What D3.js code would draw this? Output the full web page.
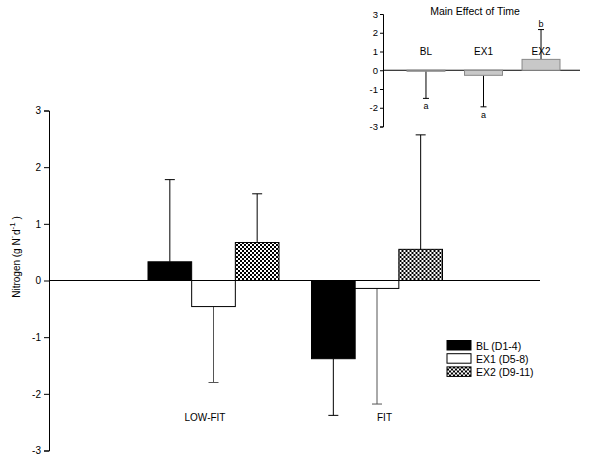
<!DOCTYPE html>
<html><head><meta charset="utf-8">
<script src="https://cdn.jsdelivr.net/npm/d3@7"></script>
<style>body{margin:0;background:#fff}svg{display:block;font-family:"Liberation Sans",Arial,sans-serif}</style>
</head><body><svg id="c" width="600" height="463"></svg>
<script>
const groups = ["LOW-FIT", "FIT"];
const periods = ["BL", "EX1", "EX2"];
const legendLabels = ["BL (D1-4)", "EX1 (D5-8)", "EX2 (D9-11)"];
const lowFitMeans = [0.33, -0.46, 0.67];
const lowFitErr = [1.45, 1.34, 0.86];
const fitMeans = [-1.38, -0.14, 0.55];
const fitErr = [1.0, 2.04, 2.02];
const yTicks = [-3, -2, -1, 0, 1, 2, 3];
const insetMeans = [-0.04, -0.27, 0.58];
const insetErr = [1.46, 1.68, 1.59];
const insetLetters = ["a", "a", "b"];

const svg = d3.select("#c");
const defs = svg.append("defs");
const pat = defs.append("pattern").attr("id","chk").attr("patternUnits","userSpaceOnUse")
  .attr("width",4).attr("height",4);
pat.append("rect").attr("width",4).attr("height",4).attr("fill","#fff");
pat.append("rect").attr("width",2).attr("height",2).attr("fill","#000");
pat.append("rect").attr("x",2).attr("y",2).attr("width",2).attr("height",2).attr("fill","#000");
const fills = ["#000", "#fff", "url(#chk)"];
const fmt = d => String(d);

// main chart
const y = d3.scaleLinear().domain([-3,3]).range([450.5,110.5]);
const x1 = d3.scaleBand().domain(periods).range([0,131]);
const data = [lowFitMeans, fitMeans];
const errs = [lowFitErr, fitErr];
const xg = d3.scaleOrdinal().domain(groups).range([148, 311.5]);

const ax = svg.append("g").attr("transform","translate(49,0)")
  .call(d3.axisLeft(y).tickValues(yTicks).tickSize(5).tickPadding(3).tickFormat(fmt));
ax.select(".domain").attr("stroke","#000");
ax.selectAll(".tick line").attr("stroke","#000");
ax.selectAll("text").attr("font-size",10).attr("fill","#000");

svg.append("line").attr("x1",49).attr("x2",540).attr("y1",y(0)).attr("y2",y(0)).attr("stroke","#000");

groups.forEach((g,gi)=>{
  const gg = svg.append("g").attr("transform",`translate(${xg(g)},0)`);
  periods.forEach((p,pi)=>{
    const v = data[gi][pi], e = errs[gi][pi];
    const bx = x1(p), bw = x1.bandwidth(), cx = bx + bw/2;
    const end = v + Math.sign(v)*e;
    const ec = pi===1 ? "#555" : "#000";
    gg.append("line").attr("x1",cx).attr("x2",cx).attr("y1",y(v)).attr("y2",y(end)).attr("stroke",ec);
    gg.append("line").attr("x1",cx-5).attr("x2",cx+5).attr("y1",y(end)).attr("y2",y(end)).attr("stroke",ec);
    gg.append("rect").attr("x",bx).attr("width",bw)
      .attr("y",y(Math.max(0,v))).attr("height",Math.abs(y(v)-y(0)))
      .attr("fill",fills[pi]).attr("stroke","#000").attr("stroke-width",1);
  });
});
svg.append("text").attr("x",xg("LOW-FIT")+57).attr("y",421).attr("text-anchor","middle")
  .attr("font-size",10).text("LOW-FIT");
svg.append("text").attr("x",xg("FIT")+73).attr("y",421).attr("text-anchor","middle")
  .attr("font-size",10).text("FIT");

const yl = svg.append("text").attr("transform","translate(20,257) rotate(-90)")
  .attr("text-anchor","middle").attr("font-size",10);
yl.append("tspan").text("Nitrogen (g N\u02D9d");
yl.append("tspan").attr("dy",-5).attr("font-size",8).text("-1");
yl.append("tspan").attr("dy",5).text(" )");

// legend
const lg = svg.append("g").attr("transform","translate(447,340.5)");
legendLabels.forEach((l,i)=>{
  lg.append("rect").attr("x",0).attr("y",i*13.2).attr("width",24).attr("height",9.5)
    .attr("fill",fills[i]).attr("stroke","#000");
  lg.append("text").attr("x",29).attr("y",i*13.2+9).attr("font-size",10.5).text(l);
});

// inset
const yi = d3.scaleLinear().domain([-3,3]).range([126.5,14]);
const xi = d3.scaleBand().domain(periods).range([407,560]).paddingInner(0.34);
const ia = svg.append("g").attr("transform","translate(383,0)")
  .call(d3.axisLeft(yi).tickValues(yTicks).tickSize(3).tickPadding(2).tickFormat(fmt));
ia.select(".domain").attr("stroke","#000");
ia.selectAll(".tick line").attr("stroke","#000");
ia.selectAll("text").attr("font-size",9.5).attr("fill","#000");
svg.append("line").attr("x1",383).attr("x2",580).attr("y1",yi(0)).attr("y2",yi(0)).attr("stroke","#000");
periods.forEach((p,i)=>{
  const v = insetMeans[i], e = insetErr[i];
  const bx = xi(p), bw = xi.bandwidth(), cx = bx+bw/2;
  const end = v + Math.sign(v)*e;
  svg.append("line").attr("x1",cx).attr("x2",cx).attr("y1",yi(v)).attr("y2",yi(end)).attr("stroke","#000");
  svg.append("line").attr("x1",cx-3).attr("x2",cx+3).attr("y1",yi(end)).attr("y2",yi(end)).attr("stroke","#000");
  svg.append("rect").attr("x",bx).attr("width",bw).attr("y",yi(Math.max(0,v)))
    .attr("height",Math.max(1,Math.abs(yi(v)-yi(0)))).attr("fill","#c8c8c8").attr("stroke","#888");
  svg.append("text").attr("x",cx).attr("y",55).attr("text-anchor","middle").attr("font-size",10).text(p);
  const ly = v < 0 ? yi(end)+11 : yi(end)-3;
  svg.append("text").attr("x",cx).attr("y",ly).attr("text-anchor","middle").attr("font-size",9).text(insetLetters[i]);
});
svg.append("text").attr("x",475).attr("y",15).attr("text-anchor","middle").attr("font-size",10.5).text("Main Effect of Time");
</script></body></html>
